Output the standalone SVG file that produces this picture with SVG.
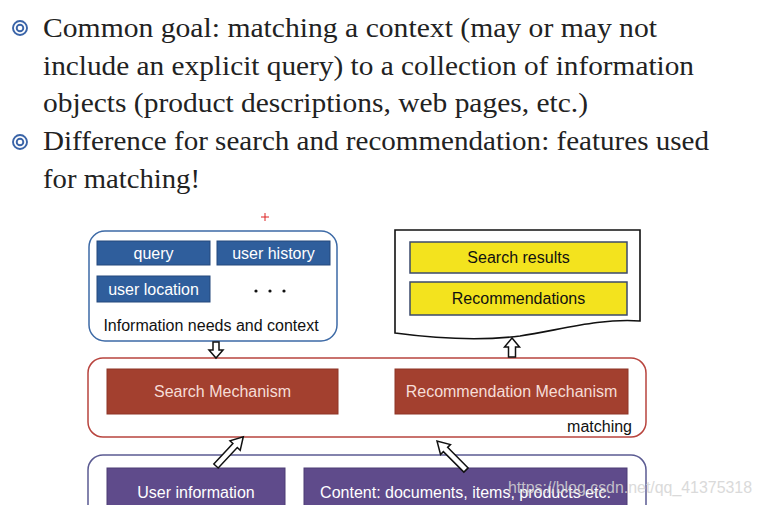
<svg xmlns="http://www.w3.org/2000/svg" width="762" height="505" viewBox="0 0 762 505">
<defs>
<style>
.serif{font-family:"Liberation Serif","DejaVu Serif",serif;font-size:27px;fill:#222}
.bul{fill:none;stroke:#3a64a8;stroke-width:1.9}
.lbl{font-family:"Liberation Sans",Arial,sans-serif;font-size:16px;text-anchor:middle}
.wt{fill:#ffffff}
.bk{fill:#111}
.arr{fill:#fff;stroke:#111;stroke-width:1.5;stroke-linejoin:miter}
.blue{fill:#2f5e9c;stroke:#24497c;stroke-width:1}
.yel{fill:#f3e31e;stroke:#3b4a6c;stroke-width:1.5}
.red{fill:#a3402f;stroke:#8e3526;stroke-width:1}
.pur{fill:#5f4b8b;stroke:#4d3c75;stroke-width:1}
</style>
</defs>
<rect width="762" height="505" fill="#fff"/>

<g id="bullets">
<circle class="bul" cx="20" cy="28" r="7"/><circle class="bul" cx="20" cy="28" r="3.3"/>
<circle class="bul" cx="20" cy="142" r="7"/><circle class="bul" cx="20" cy="142" r="3.3"/>
<text class="serif" x="43" y="37" textLength="614" lengthAdjust="spacingAndGlyphs">Common goal: matching a context (may or may not</text>
<text class="serif" x="43" y="75" textLength="651" lengthAdjust="spacingAndGlyphs">include an explicit query) to a collection of information</text>
<text class="serif" x="43" y="112" textLength="545" lengthAdjust="spacingAndGlyphs">objects (product descriptions, web pages, etc.)</text>
<text class="serif" x="43" y="150" textLength="666" lengthAdjust="spacingAndGlyphs">Difference for search and recommendation: features used</text>
<text class="serif" x="43" y="188" textLength="157" lengthAdjust="spacingAndGlyphs">for matching!</text>
</g>

<g id="plus">
<path d="M261,217 H269 M265,213 V221" stroke="#d22" stroke-width="1"/>
</g>

<g id="context">
<rect x="89" y="231" width="248" height="110" rx="16" fill="#fff" stroke="#3d6aa6" stroke-width="1.5"/>
<rect class="blue" x="97" y="241" width="113" height="24"/>
<text class="lbl wt" x="153.5" y="259">query</text>
<rect class="blue" x="217" y="241" width="113" height="24"/>
<text class="lbl wt" x="273.5" y="259">user history</text>
<rect class="blue" x="97" y="276" width="113" height="26"/>
<text class="lbl wt" x="153.5" y="295">user location</text>
<circle class="bk" cx="256" cy="291" r="1.6"/><circle class="bk" cx="270" cy="291" r="1.6"/><circle class="bk" cx="284" cy="291" r="1.6"/>
<text class="lbl bk" x="211" y="331">Information needs and context</text>
</g>

<g id="results">
<path d="M395,230 H640 V321 C600,318 560,330 520,336 C480,341 440,339 395,333 Z" fill="#fff" stroke="#111" stroke-width="1.6"/>
<rect class="yel" x="410" y="242" width="217" height="31"/>
<text class="lbl bk" x="518.5" y="263">Search results</text>
<rect class="yel" x="410" y="282" width="217" height="33"/>
<text class="lbl bk" x="518.5" y="304">Recommendations</text>
</g>

<g id="matching">
<rect x="88" y="358" width="558" height="79" rx="15" fill="#fff" stroke="#b8443e" stroke-width="1.5"/>
<rect class="red" x="107" y="369" width="231" height="45"/>
<text class="lbl" x="222.5" y="397" fill="#f6ddd7">Search Mechanism</text>
<rect class="red" x="395" y="369" width="233" height="45"/>
<text class="lbl" x="511.5" y="397" fill="#f6ddd7">Recommendation Mechanism</text>
<text class="lbl bk" x="632" y="432" style="text-anchor:end">matching</text>
</g>

<g id="sources">
<rect x="88" y="455" width="558" height="80" rx="15" fill="#fff" stroke="#5b5b92" stroke-width="1.5"/>
<rect class="pur" x="107" y="468" width="178" height="50"/>
<text class="lbl wt" x="196" y="498">User information</text>
<rect class="pur" x="304" y="468" width="323" height="50"/>
<text class="lbl wt" x="465.5" y="498">Content: documents, items, products etc.</text>
</g>

<g id="connectors">
<polygon class="arr" transform="translate(216,342) rotate(90)" points="0,-3 8,-3 8,-7 16,0 8,7 8,3 0,3"/>
<polygon class="arr" transform="translate(512,357) rotate(-90)" points="0,-3.5 10,-3.5 10,-7.5 19,0 10,7.5 10,3.5 0,3.5"/>
<polygon class="arr" transform="translate(216,466) rotate(-47)" points="0,-3 28,-3 28,-7 40,0 28,7 28,3 0,3"/>
<polygon class="arr" transform="translate(466,470) rotate(-135)" points="0,-3 29,-3 29,-7 41,0 29,7 29,3 0,3"/>
</g>

<g id="watermark">
<text x="508" y="493" style="font-family:'Liberation Sans',Arial,sans-serif;font-size:16px;fill:#d4d4d4;opacity:0.85" textLength="244" lengthAdjust="spacingAndGlyphs">https://blog.csdn.net/qq_41375318</text>
</g>
</svg>
